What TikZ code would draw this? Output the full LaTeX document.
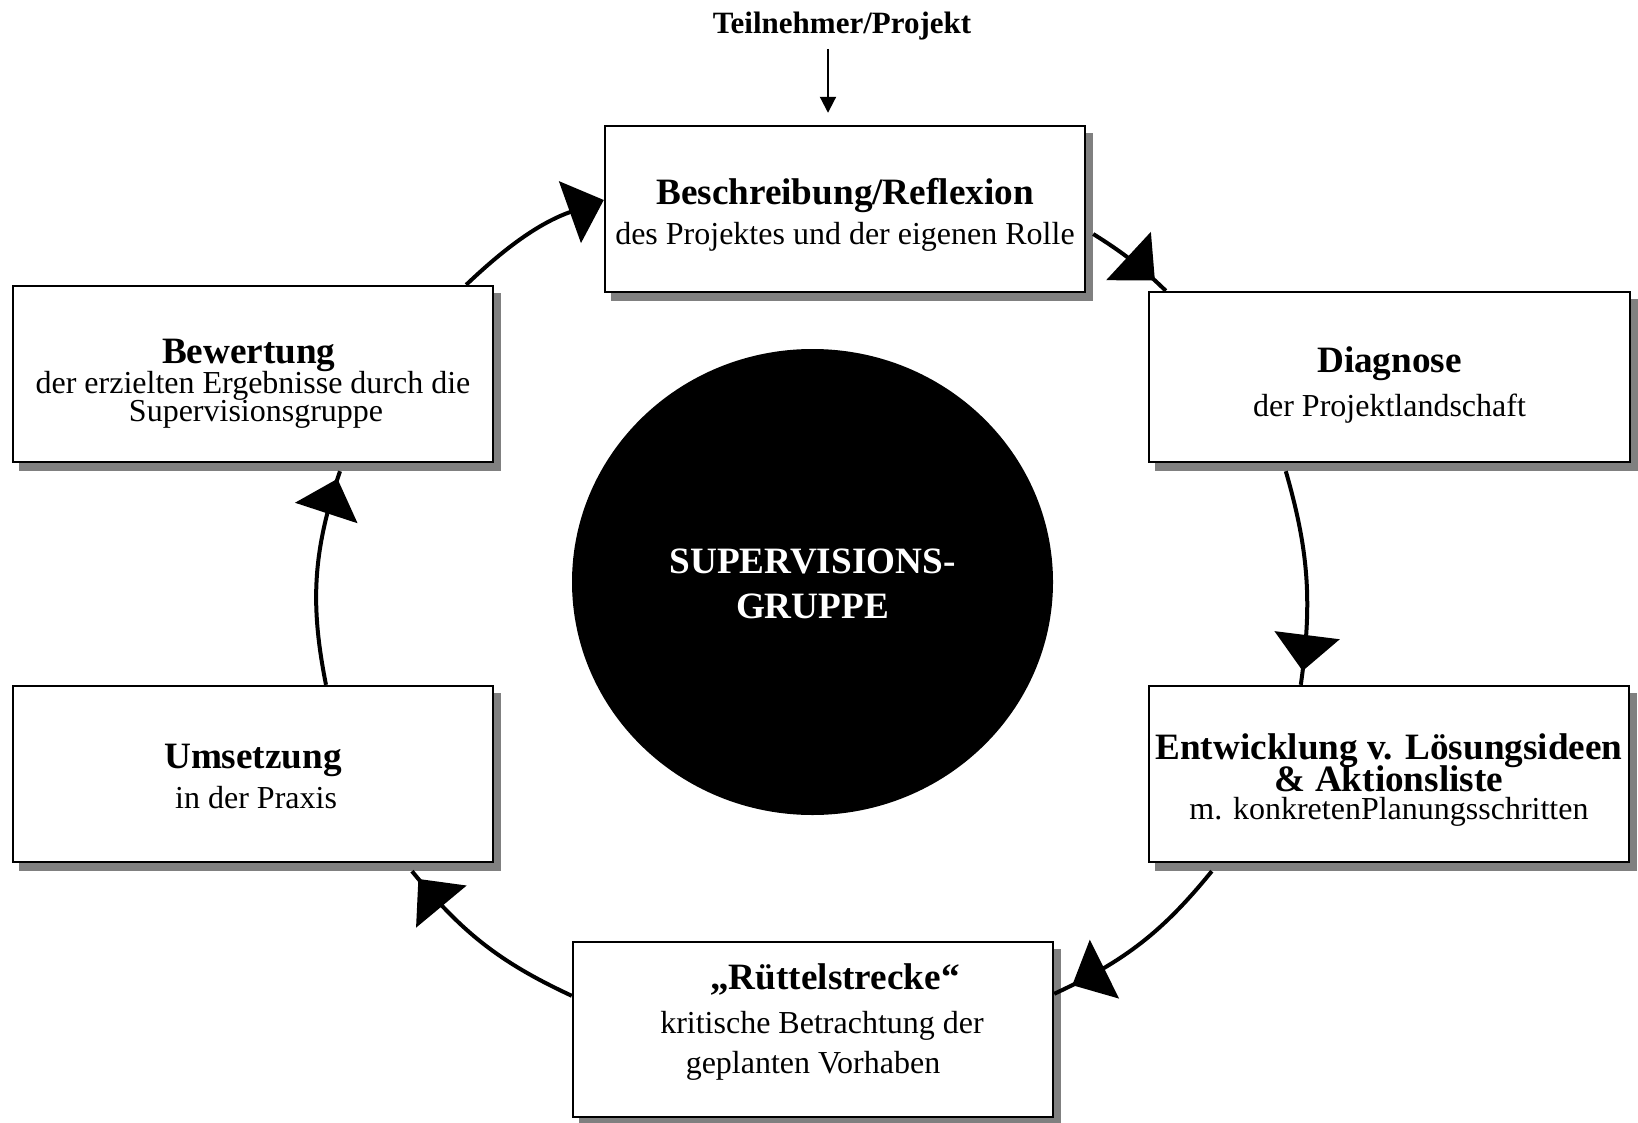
\documentclass[tikz,border=0pt]{standalone}
\usepackage{fontspec}
\setmainfont{Liberation Serif}
\usetikzlibrary{arrows.meta,shapes.geometric,shadows,decorations.markings}

% heading font used for the bold first lines
\newcommand{\headfont}{\bfseries\fontsize{18.6}{20}\selectfont}
% body font of the stage boxes; lines may be packed tighter than their height
\newcommand{\stagefont}{\fontsize{16}{19}\selectfont\lineskiplimit=-40pt\relax}

\begin{document}
\begin{tikzpicture}[x=0.5pt,y=-0.5pt,
  bigtip/.tip={Triangle[length=18pt,width=32.5pt]},
  stage/.style={rectangle, draw=black, line width=1.2pt, fill=white,
    inner sep=0pt, minimum width=240pt,
    general shadow={draw=black!50, fill=black!50, shadow xshift=3.5pt, shadow yshift=-4pt}},
  stagetext/.style={inner sep=0pt, align=center, font=\stagefont},
  flow/.style={line width=2pt},
  flowmid/.style={flow, postaction={decorate},
    decoration={markings, mark=at position -#1 with {\arrow{bigtip}}}},
  feed/.style={line width=1pt, -{Triangle[length=8pt,width=8pt]}}]

  \useasboundingbox (0,0) rectangle (1638,1123);
  \fill[white] (0,0) rectangle (1638,1123);

  % centre disc
  \node[ellipse, fill=black, minimum width=240.5pt, minimum height=233pt,
        inner sep=0pt] (grp) at (812.5,582) {};
  \node[inner sep=0pt, text=white, align=center, font=\headfont] (grpT)
        at ([yshift=-1pt]grp.center) {SUPERVISIONS-\\[2.5pt]GRUPPE};

  % the six stages of the cycle
  \node[stage, minimum height=83pt] (refl) at (845,209) {};
  \node[stage, minimum width=240.5pt, minimum height=85pt] (diag) at (1389.5,377) {};
  \node[stage, minimum height=88pt] (entw) at (1389,774) {};
  \node[stage, minimum height=87.5pt] (ruet) at (813,1029.5) {};
  \node[stage, minimum height=88pt] (ums) at (253,774) {};
  \node[stage, minimum height=88pt] (bew) at (253,374) {};

  % their labels
  \node[stagetext] (reflT) at ([yshift=-3.1pt]refl.center)
    {{\headfont Beschreibung/Reflexion}\\[1pt]des Projektes und der eigenen Rolle};
  \node[stagetext] (diagT) at ([yshift=-4.2pt]diag.center)
    {{\headfont Diagnose}\\[3pt]der Projektlandschaft};
  \node[stagetext] (entwT) at ([yshift=-2.9pt]entw.center)
    {{\headfont Entwicklung v. Lösungsideen}\\[-3pt]{\headfont \& Aktionsliste}\\[-5pt]m. konkretenPlanungsschritten};
  \node[stagetext] (ruetT) at ([yshift=3.9pt]ruet.center)
    {\hspace*{22pt}{\headfont „Rüttelstrecke“}\\[3.1pt]\hspace*{9pt}kritische Betrachtung der\\[1pt]geplanten Vorhaben};
  \node[stagetext] (umsT) at ([yshift=-1.3pt]ums.center)
    {{\headfont Umsetzung}\\[1pt]\hspace*{3.1pt}in der Praxis};
  \node[stagetext] (bewT) at ([yshift=-5pt]bew.center)
    {{\headfont Bewertung}\hspace*{4.2pt}\\[-4pt]der erzielten Ergebnisse durch die\\[-5pt]\hspace*{3.1pt}Supervisionsgruppe};

  % input from above
  \node[font=\bfseries\fontsize{15.5}{18}\selectfont, inner sep=0pt, anchor=base] (teil) at (842,34)
    {Teilnehmer/Projekt};
  \coordinate (fx) at (828,0);
  \draw[feed, shorten <=4pt, shorten >=6pt] (teil.south -| fx) -- (refl.north -| fx);

  % cycle connectors
  \draw[flow, -{bigtip}] ([xshift=-14pt]bew.north east) to[bend left=12] ([yshift=4.5pt]refl.west);
  \draw[flowmid=7.5pt] ([xshift=3.5pt,yshift=-12.5pt]refl.east) to[bend left=6] ([xshift=9pt]diag.north west);
  \draw[flowmid=7pt] ([xshift=69pt,yshift=-4pt]diag.south west) to[bend left=12] ([xshift=76.5pt]entw.north west);
  \draw[flowmid=10pt] ([xshift=32pt,yshift=-4pt]entw.south west) to[bend left=13] ([yshift=-26.5pt]ruet.north east);
  \draw[flowmid=5pt] ([yshift=-27.5pt]ruet.north west) to[bend left=13] ([xshift=79.5pt,yshift=-4pt]ums.south);
  \draw[flowmid=4pt] ([xshift=36.5pt]ums.north) to[bend left=15] ([xshift=43.5pt,yshift=-4pt]bew.south);
\end{tikzpicture}
\end{document}
